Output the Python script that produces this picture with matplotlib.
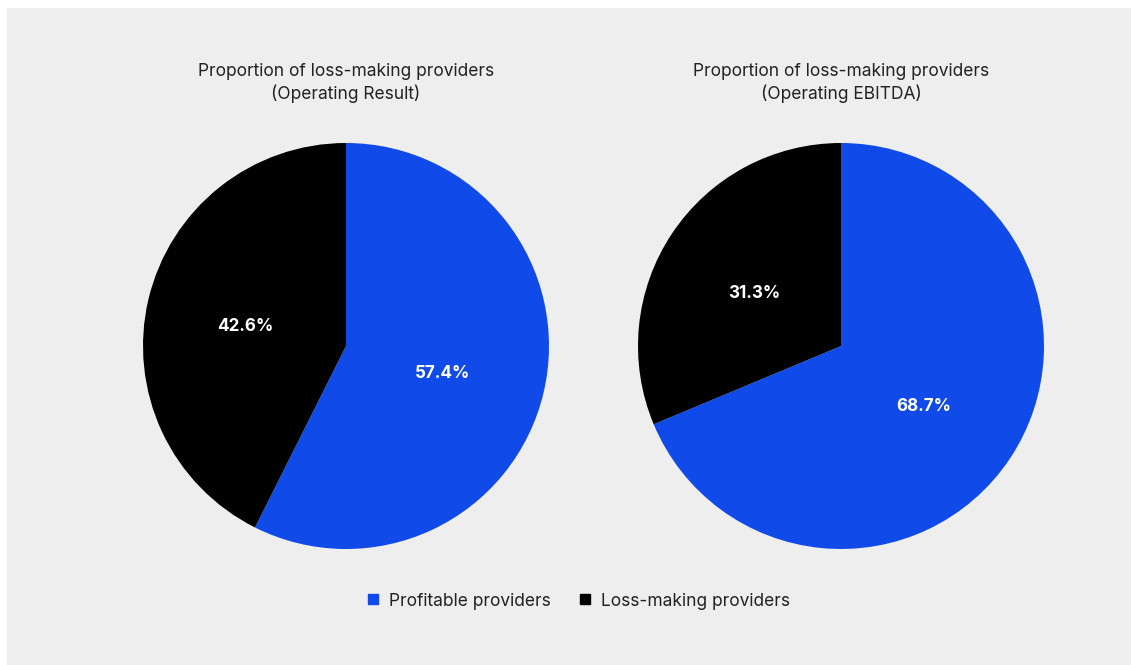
import matplotlib
matplotlib.use("Agg")
import matplotlib.pyplot as plt
from matplotlib.patches import Rectangle
from matplotlib.lines import Line2D
from matplotlib.transforms import ScaledTranslation

plt.rcParams['font.family'] = ['Inter', 'DejaVu Sans']

# Data
categories = ["Profitable providers", "Loss-making providers"]
operating_result = [57.4, 42.6]
operating_ebitda = [68.7, 31.3]
titles = ["Proportion of loss-making providers\n(Operating Result)",
          "Proportion of loss-making providers\n(Operating EBITDA)"]
colors = ["#104ae8", "#000000"]

W, H = 1131, 665
fig = plt.figure(figsize=(W / 100, H / 100), dpi=100)
fig.patch.set_facecolor("white")
fig.add_artist(Rectangle((7 / W, 0), 1 - 7 / W, 1 - 8 / H, transform=fig.transFigure,
                         facecolor="#eeeeee", edgecolor="none", zorder=0))

R = 203
centers = [(346, 346), (841, 346)]
for (cx, cy), vals, title in zip(centers, [operating_result, operating_ebitda], titles):
    ax = fig.add_axes([(cx - R) / W, (H - cy - R) / H, 2 * R / W, 2 * R / H])
    wedges, texts, autotexts = ax.pie(
        vals, colors=colors, startangle=90, counterclock=False, radius=1,
        autopct="%.1f%%", pctdistance=0.5,
        wedgeprops=dict(linewidth=0),
        textprops=dict(color="white", fontsize=12.3, fontweight="bold"))
    shift = ScaledTranslation(-2 / 100, -4 / 100, fig.dpi_scale_trans)
    for t in autotexts:
        t.set_transform(t.get_transform() + shift)
    ax.set_xlim(-1, 1)
    ax.set_ylim(-1, 1)
    ax.set_aspect("equal")
    ax.axis("off")
    fig.text(cx / W, 1 - 83 / H, title, ha="center", va="center",
             fontsize=12.5, color="#222222", linespacing=1.35)

handles = [Line2D([], [], marker="s", linestyle="none", markersize=7.5,
                  markerfacecolor=c, markeredgecolor=c) for c in colors]
fig.legend(handles, categories, loc="center", bbox_to_anchor=(577 / W, 1 - 601 / H),
           ncol=2, frameon=False, fontsize=12.5, handletextpad=0.4,
           columnspacing=1.5, handlelength=1.0, labelcolor="#222222")

fig.savefig("out.png", dpi=100, facecolor=fig.get_facecolor())
